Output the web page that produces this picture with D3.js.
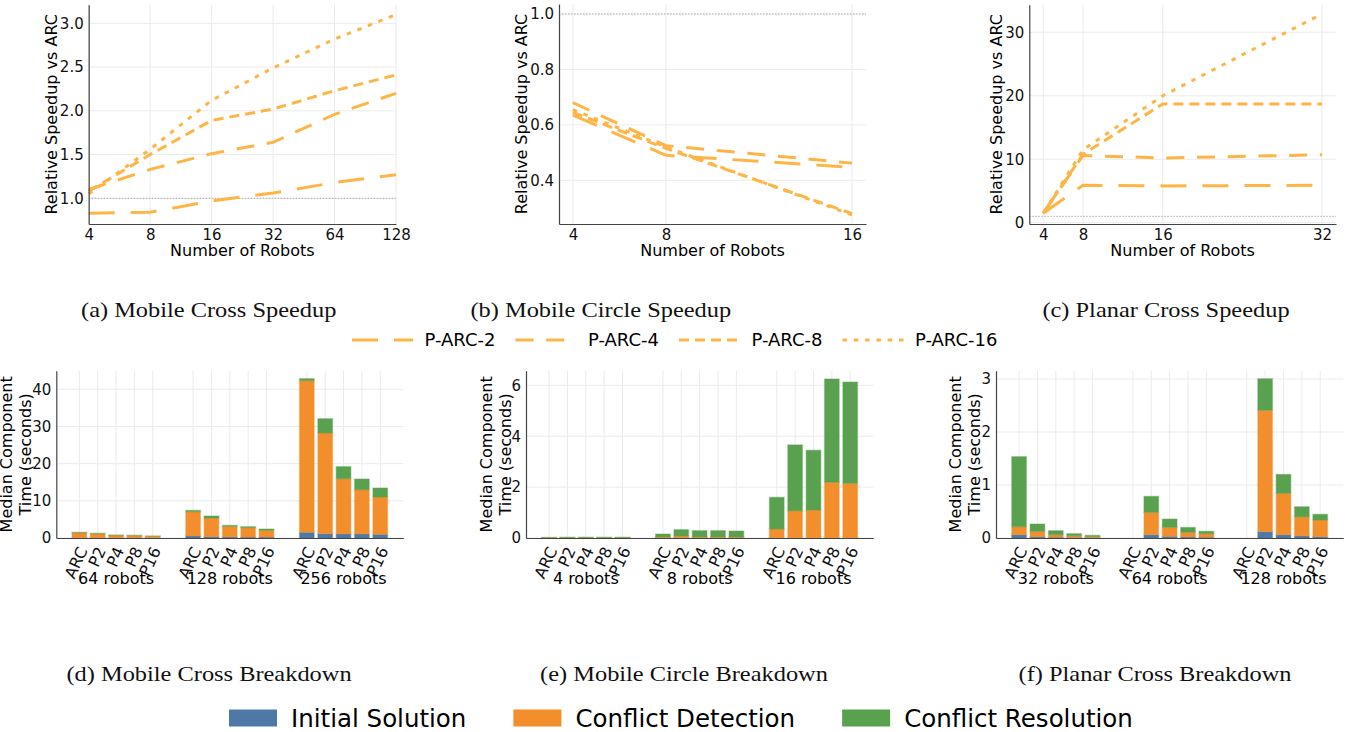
<!DOCTYPE html>
<html>
<head>
<meta charset="utf-8">
<script src="https://d3js.org/d3.v7.min.js"></script>
<style>
  body { margin: 0; background: #fff; }
  text { font-family: "DejaVu Sans", sans-serif; }
</style>
</head>
<body>
<div id="chart-area"></div>
<script>
// ---- data ----
const seriesNames = ["P-ARC-2", "P-ARC-4", "P-ARC-8", "P-ARC-16"]

const robotsCross = [4, 8, 16, 32, 64, 128]
const crossSpeedup = [
  [0.83, 0.84, 0.97, 1.06, 1.18, 1.27],
  [1.10, 1.33, 1.51, 1.64, 1.96, 2.20],
  [1.08, 1.50, 1.89, 2.02, 2.23, 2.41],
  [1.05, 1.56, 2.12, 2.49, 2.82, 3.10]
]

const robotsCircle = [4, 8, 16]
const circleSpeedup = [
  [0.635, 0.490, 0.447],
  [0.680, 0.525, 0.462],
  [0.645, 0.515, 0.280],
  [0.655, 0.520, 0.275]
]

const robotsPlanar = [4, 8, 16, 32]
const planarSpeedup = [
  [1.5, 5.9, 5.8, 5.9],
  [1.5, 10.6, 10.2, 10.7],
  [1.5, 10.8, 18.7, 18.7],
  [1.5, 11.5, 20.0, 32.9]
]

const methods = ["ARC", "P2", "P4", "P8", "P16"]
const partNames = ["Initial Solution", "Conflict Detection", "Conflict Resolution"]

const crossGroups = ["64 robots", "128 robots", "256 robots"]
const crossInit = [[0.10, 0.08, 0.06, 0.05, 0.05], [0.54, 0.35, 0.30, 0.25, 0.25], [1.52, 1.17, 1.08, 1.08, 0.99]]
const crossDetect = [[1.30, 1.08, 0.66, 0.60, 0.44], [6.54, 5.03, 2.84, 2.53, 1.81], [40.81, 27.08, 14.88, 11.92, 10.04]]
const crossResolve = [[0.12, 0.10, 0.08, 0.07, 0.05], [0.36, 0.54, 0.26, 0.27, 0.36], [0.54, 3.85, 3.24, 2.87, 2.42]]

const circleGroups = ["4 robots", "8 robots", "16 robots"]
const circleInit = [[0.003, 0.003, 0.003, 0.003, 0.003], [0.005, 0.005, 0.005, 0.005, 0.005], [0.005, 0.005, 0.005, 0.005, 0.005]]
const circleDetect = [[0.007, 0.008, 0.008, 0.008, 0.008], [0.035, 0.075, 0.035, 0.035, 0.035], [0.35, 1.065, 1.095, 2.185, 2.145]]
const circleResolve = [[0.012, 0.02, 0.02, 0.02, 0.02], [0.117, 0.25, 0.25, 0.25, 0.235], [1.245, 2.59, 2.35, 4.06, 3.98]]

const planarGroups = ["32 robots", "64 robots", "128 robots"]
const planarInit = [[0.063, 0.025, 0.015, 0.010, 0.006], [null, 0.063, 0.030, 0.020, 0.015], [null, 0.120, 0.063, 0.040, 0.025]]
const planarDetect = [[0.151, 0.101, 0.048, 0.034, 0.019], [null, 0.421, 0.170, 0.087, 0.067], [null, 2.290, 0.780, 0.360, 0.315]]
const planarResolve = [[1.321, 0.138, 0.075, 0.038, 0.025], [null, 0.302, 0.158, 0.093, 0.044], [null, 0.596, 0.357, 0.190, 0.107]]

// ---- styling ----
const lineColor = "#ffb446"
const dashes = ["26,16", "18,12.7", "10,6", "4.5,6.8"]
const partKeys = ["init", "detect", "resolve"]
const partColors = ["#4e79a7", "#f28e2b", "#59a14f"]
const gridColor = "#ebebeb"
const groupStep = 6.2

let svg = d3.select("#chart-area").append("svg")
  .attr("width", 1353)
  .attr("height", 732)

const styleAxis = (sel) => {
  sel.attr("font-family", "DejaVu Sans").attr("font-size", 15)
  sel.select(".domain").attr("stroke", "#444").attr("stroke-width", 1.2)
  sel.selectAll("text").attr("fill", "#111")
}

const caption = (cx, cy, txt) => {
  svg.append("text")
    .attr("transform", "translate(" + cx + "," + cy + ") scale(1.22,1)")
    .attr("text-anchor", "middle")
    .style("font-family", "'Liberation Serif', 'Times New Roman', serif")
    .style("font-size", "20px")
    .attr("fill", "#111")
    .text(txt)
}

const speedupChart = (box, robots, rows, opts) => {
  let x = (opts.log ? d3.scaleLog().base(2) : d3.scaleLinear())
    .domain(opts.xDomain).range([box.left, box.right])
  let y = d3.scaleLinear().domain(opts.yDomain).range([box.bottom, box.top])
  let g = svg.append("g")

  g.selectAll(".grid-x").data(robots).enter().append("line")
    .attr("x1", d => x(d)).attr("x2", d => x(d))
    .attr("y1", box.top).attr("y2", box.bottom)
    .attr("stroke", gridColor)
  g.selectAll(".grid-y").data(opts.yTicks).enter().append("line")
    .attr("x1", box.left).attr("x2", box.right)
    .attr("y1", d => y(d)).attr("y2", d => y(d))
    .attr("stroke", gridColor)

  // baseline speedup of 1
  g.append("line")
    .attr("x1", box.left).attr("x2", box.right)
    .attr("y1", y(1)).attr("y2", y(1))
    .attr("stroke", "#999").attr("stroke-width", 0.8)
    .attr("stroke-dasharray", "1.5,1.5")

  let line = d3.line().x((d, i) => x(robots[i])).y(d => y(d))
  g.selectAll(".speedup").data(rows).enter().append("path")
    .attr("d", line)
    .attr("fill", "none")
    .attr("stroke", lineColor)
    .attr("stroke-width", 3)
    .attr("stroke-dasharray", (d, i) => dashes[i])

  let xAxisCall = d3.axisBottom(x).tickValues(robots).tickFormat(d3.format("d"))
    .tickSize(0).tickPadding(5)
  g.append("g").attr("transform", "translate(0," + box.bottom + ")").call(xAxisCall).call(styleAxis)

  let yAxisCall = d3.axisLeft(y).tickValues(opts.yTicks).tickFormat(d3.format(opts.yFmt))
    .tickSize(0).tickPadding(5)
  g.append("g").attr("transform", "translate(" + box.left + ",0)").call(yAxisCall).call(styleAxis)

  g.append("text")
    .attr("x", (box.left + box.right) / 2)
    .attr("y", box.bottom + 32)
    .attr("text-anchor", "middle")
    .style("font-size", "16px")
    .text("Number of Robots")

  g.append("text")
    .attr("transform", "translate(" + (box.left - opts.labelOffset) + "," + (box.top + box.bottom) / 2 + ") rotate(-90)")
    .attr("dy", "0.35em")
    .attr("text-anchor", "middle")
    .style("font-size", "16px")
    .text("Relative Speedup vs ARC")
}

const breakdownChart = (box, groups, init, detect, resolve, opts) => {
  let rows = []
  groups.forEach((grp, gi) => {
    methods.forEach((m, mi) => {
      rows.push({ pos: gi * groupStep + mi, method: m,
        init: init[gi][mi], detect: detect[gi][mi], resolve: resolve[gi][mi] })
    })
  })
  let x = d3.scaleLinear()
    .domain([-1.257, 2 * groupStep + 4 + 1.257])
    .range([box.left, box.right])
  let y = d3.scaleLinear().domain(opts.yDomain).range([box.bottom, box.top])
  let bw = x(0.8) - x(0)
  let g = svg.append("g")

  g.selectAll(".grid-x").data(rows).enter().append("line")
    .attr("x1", d => x(d.pos)).attr("x2", d => x(d.pos))
    .attr("y1", box.top).attr("y2", box.bottom)
    .attr("stroke", gridColor)
  g.selectAll(".grid-y").data(opts.yTicks).enter().append("line")
    .attr("x1", box.left).attr("x2", box.right)
    .attr("y1", d => y(d)).attr("y2", d => y(d))
    .attr("stroke", gridColor)

  let stacked = d3.stack().keys(partKeys).value((d, k) => d[k] || 0)(rows)
  g.selectAll(".layer").data(stacked).enter().append("g")
    .attr("fill", (d, i) => partColors[i])
    .attr("stroke", (d, i) => partColors[i])
    .attr("stroke-opacity", 0.35)
    .attr("stroke-width", 1.4)
    .selectAll("rect")
    .data(d => d.filter(s => s.data.init !== null))
    .enter().append("rect")
      .attr("x", s => x(s.data.pos) - bw / 2)
      .attr("width", bw)
      .attr("y", s => y(s[1]))
      .attr("height", s => y(s[0]) - y(s[1]))

  let xAxisCall = d3.axisBottom(x).tickValues(rows.map(r => r.pos))
    .tickFormat((d, i) => rows[i].method).tickSize(0)
  g.append("g").attr("transform", "translate(0," + box.bottom + ")").call(xAxisCall).call(styleAxis)
    .selectAll("text")
      .attr("y", 0)
      .attr("dy", "0.35em")
      .attr("font-size", 16)
      .attr("text-anchor", "end")
      .attr("transform", "translate(3,10) rotate(-65)")

  let yAxisCall = d3.axisLeft(y).tickValues(opts.yTicks).tickFormat(d3.format("d"))
    .tickSize(0).tickPadding(5)
  g.append("g").attr("transform", "translate(" + box.left + ",0)").call(yAxisCall).call(styleAxis)

  g.selectAll(".group-label").data(groups).enter().append("text")
    .attr("x", (d, i) => x(i * groupStep + 2))
    .attr("y", box.bottom + 46)
    .attr("text-anchor", "middle")
    .style("font-size", "16px")
    .text(d => d)

  let cy = (box.top + box.bottom) / 2
  let lx = box.left - opts.labelOffset
  g.append("text")
    .attr("transform", "translate(" + (lx - 18.3) + "," + cy + ") rotate(-90)")
    .attr("dy", "0.35em").attr("text-anchor", "middle")
    .style("font-size", "16px")
    .text("Median Component")
  g.append("text")
    .attr("transform", "translate(" + lx + "," + cy + ") rotate(-90)")
    .attr("dy", "0.35em").attr("text-anchor", "middle")
    .style("font-size", "16px")
    .text("Time (seconds)")
}

// ---- top row: speedup ----
speedupChart({ left: 88.7, right: 396, top: 4.7, bottom: 224 }, robotsCross, crossSpeedup,
  { log: true, xDomain: [4, 128], yDomain: [0.706, 3.213], yTicks: [1.0, 1.5, 2.0, 2.5, 3.0], yFmt: ".1f", labelOffset: 37 })
speedupChart({ left: 559, right: 866, top: 4, bottom: 224 }, robotsCircle, circleSpeedup,
  { log: false, xDomain: [3.4, 16.6], yDomain: [0.2424, 1.036], yTicks: [0.4, 0.6, 0.8, 1.0], yFmt: ".1f", labelOffset: 37.3 })
speedupChart({ left: 1029.3, right: 1336, top: 4.7, bottom: 224 }, robotsPlanar, planarSpeedup,
  { log: false, xDomain: [2.6, 33.4], yDomain: [-0.205, 34.35], yTicks: [0, 10, 20, 30], yFmt: "d", labelOffset: 32.6 })

caption(208.7, 317, "(a) Mobile Cross Speedup")
caption(600.8, 317, "(b) Mobile Circle Speedup")
caption(1166, 317, "(c) Planar Cross Speedup")

// ---- line legend ----
let lineLegend = svg.append("g")
let lx = 352
seriesNames.forEach((name, i) => {
  lineLegend.append("line")
    .attr("x1", lx).attr("x2", lx + 61)
    .attr("y1", 340).attr("y2", 340)
    .attr("stroke", lineColor).attr("stroke-width", 3)
    .attr("stroke-dasharray", dashes[i])
  let t = lineLegend.append("text")
    .attr("x", lx + 72.5).attr("y", 340).attr("dy", "0.35em")
    .style("font-size", "18px")
    .text(name)
  lx += 72.5 + t.node().getComputedTextLength() + 20
})

// ---- bottom row: breakdown ----
breakdownChart({ left: 56.3, right: 403.3, top: 370.7, bottom: 538 }, crossGroups, crossInit, crossDetect, crossResolve,
  { yDomain: [0, 45], yTicks: [0, 10, 20, 30, 40], labelOffset: 31.3 })
breakdownChart({ left: 526, right: 873.3, top: 370.7, bottom: 538 }, circleGroups, circleInit, circleDetect, circleResolve,
  { yDomain: [0, 6.576], yTicks: [0, 2, 4, 6], labelOffset: 21 })
breakdownChart({ left: 996, right: 1343.3, top: 370.7, bottom: 538 }, planarGroups, planarInit, planarDetect, planarResolve,
  { yDomain: [0, 3.157], yTicks: [0, 1, 2, 3], labelOffset: 22 })

caption(209, 681, "(d) Mobile Cross Breakdown")
caption(684, 681, "(e) Mobile Circle Breakdown")
caption(1155, 681, "(f) Planar Cross Breakdown")

// ---- component legend ----
let partLegend = svg.append("g")
let px = 229
partNames.forEach((name, i) => {
  partLegend.append("rect")
    .attr("x", px).attr("y", 709.5)
    .attr("width", 48).attr("height", 17)
    .attr("fill", partColors[i])
  let t = partLegend.append("text")
    .attr("x", px + 62).attr("y", 718).attr("dy", "0.35em")
    .style("font-size", "24.5px")
    .text(name)
  px += 62 + t.node().getComputedTextLength() + 47
})
</script>
</body>
</html>
